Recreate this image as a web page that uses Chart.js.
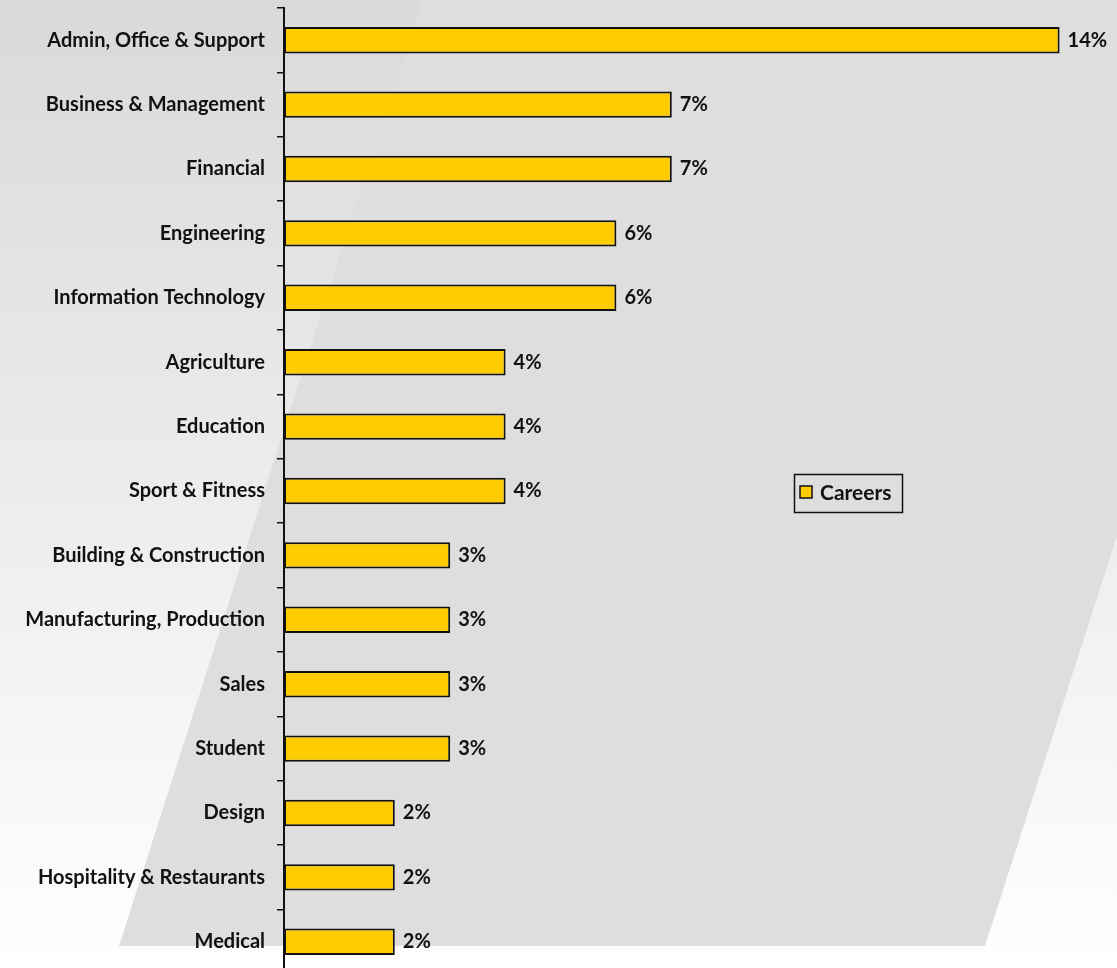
<!DOCTYPE html>
<html>
<head>
<meta charset="utf-8">
<title>Careers</title>
<script src="https://cdn.jsdelivr.net/npm/chart.js@4.4.1/dist/chart.umd.min.js"></script>
<style>
  html, body { margin: 0; padding: 0; overflow: hidden; background: #fff; }
  #wrap { width: 1117px; height: 976px; position: relative; }
</style>
</head>
<body>
<div id="wrap"><canvas id="careersChart"></canvas></div>
<script>
const categories = [
    'Admin, Office & Support',
    'Business & Management',
    'Financial',
    'Engineering',
    'Information Technology',
    'Agriculture',
    'Education',
    'Sport & Fitness',
    'Building & Construction',
    'Manufacturing, Production',
    'Sales',
    'Student',
    'Design',
    'Hospitality & Restaurants',
    'Medical'
];
const careerShares = [14, 7, 7, 6, 6, 4, 4, 4, 3, 3, 3, 3, 2, 2, 2];
const seriesName = 'Careers';

const BAR_YELLOW = '#ffcc00';
const FONT = 'Lato, "Noto Sans", sans-serif';

// grey gradient backdrop with the slanted panel behind the bars
const backdrop = {
    id: 'backdrop',
    beforeDraw(chart) {
        const { ctx, width, height } = chart;
        ctx.save();
        const g = ctx.createLinearGradient(0, 0, 0, height);
        g.addColorStop(0, '#d9d9d9');
        g.addColorStop(1, '#ffffff');
        ctx.fillStyle = g;
        ctx.fillRect(0, 0, width, height);

        ctx.fillStyle = '#dedede';
        ctx.beginPath();
        ctx.moveTo(422, -2);
        ctx.lineTo(1290, -2);
        ctx.lineTo(985, 946);
        ctx.lineTo(119, 946);
        ctx.closePath();
        ctx.fill();
        ctx.restore();
    }
};

// percentage labels at the end of each bar
const valueLabels = {
    id: 'valueLabels',
    afterDatasetsDraw(chart) {
        const { ctx } = chart;
        const meta = chart.getDatasetMeta(0);
        const values = chart.data.datasets[0].data;
        ctx.save();
        ctx.font = 'bold 20px ' + FONT;
        ctx.fillStyle = '#111';
        ctx.textAlign = 'left';
        ctx.textBaseline = 'middle';
        meta.data.forEach((bar, i) => {
            ctx.fillText(values[i] + '%', bar.x + 8, bar.y);
        });
        ctx.restore();
    }
};

// boxed legend sitting in the middle-right of the plot
const boxLegend = {
    id: 'boxLegend',
    afterDraw(chart) {
        const { ctx } = chart;
        const ds = chart.data.datasets[0];
        const x = 794, y = 474, w = 108, h = 38;
        ctx.save();
        ctx.strokeStyle = '#111';
        ctx.lineWidth = 1.5;
        ctx.strokeRect(x + 0.5, y + 0.5, w, h);

        ctx.fillStyle = ds.backgroundColor;
        ctx.fillRect(x + 6, y + 12, 12, 12);
        ctx.strokeRect(x + 6, y + 12, 12, 12);

        ctx.font = 'bold 21px ' + FONT;
        ctx.fillStyle = '#111';
        ctx.textAlign = 'left';
        ctx.textBaseline = 'middle';
        ctx.fillText(ds.label, x + 26, y + 19);
        ctx.restore();
    }
};

function build() {
    const el = document.getElementById('careersChart');

    new Chart(el, {
        type: 'bar',
        data: {
            labels: categories,
            datasets: [{
                label: seriesName,
                data: careerShares,
                backgroundColor: BAR_YELLOW,
                borderColor: '#111',
                borderWidth: 2,
                borderSkipped: false,
                barPercentage: 0.41,
                categoryPercentage: 1
            }]
        },
        options: {
            indexAxis: 'y',
            responsive: true,
            maintainAspectRatio: false,
            animation: false,
            layout: { padding: { top: 8, right: 2, bottom: 2, left: 0 } },
            plugins: {
                legend: { display: false },
                tooltip: { enabled: false }
            },
            scales: {
                x: {
                    display: false,
                    min: 0,
                    max: 15
                },
                y: {
                    // fixed axis width, and no extra room for the end labels
                    afterFit(scale) {
                        scale.width = 284;
                        scale.paddingTop = 0;
                        scale.paddingBottom = 0;
                    },
                    grid: {
                        drawOnChartArea: false,
                        drawTicks: true,
                        tickLength: 7,
                        color: '#111',
                        lineWidth: 1.5
                    },
                    border: { display: true, color: '#111', width: 2 },
                    ticks: {
                        padding: 12,
                        color: '#111',
                        font: { family: FONT, size: 20, weight: 'bold' }
                    }
                }
            }
        },
        plugins: [backdrop, valueLabels, boxLegend]
    });
}

document.fonts.load('bold 20px Lato').then(build, build);
</script>
</body>
</html>
